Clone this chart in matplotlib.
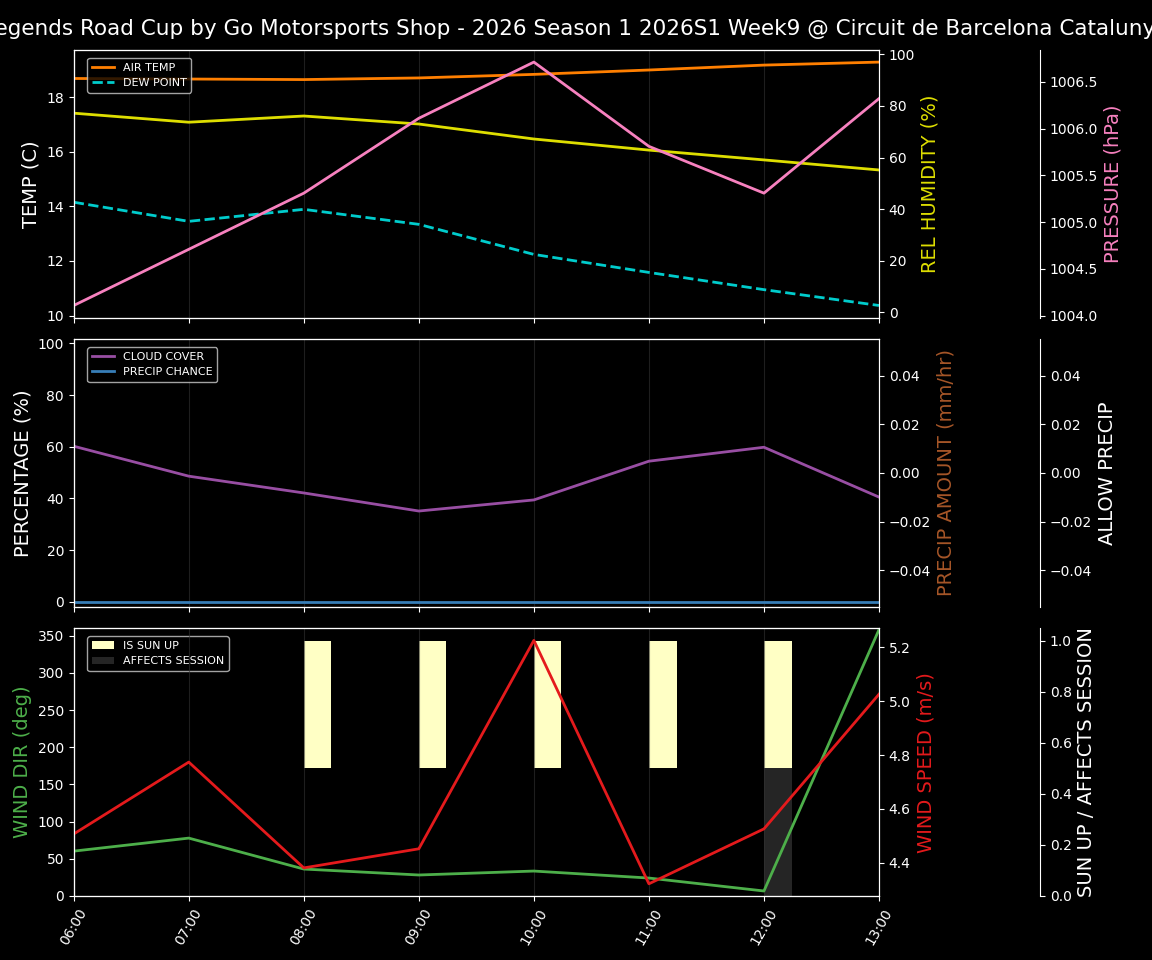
import numpy as np
import pandas as pd
import matplotlib
matplotlib.use("Agg")
import matplotlib.pyplot as plt
import matplotlib.dates as mdates

plt.style.use("dark_background")

title = "Legends Road Cup by Go Motorsports Shop - 2026 Season 1 2026S1 Week9 @ Circuit de Barcelona Catalunya"

# hourly forecast
times = pd.date_range("2026-05-09 06:00", "2026-05-09 13:00", freq="h")
air_temp = [18.68, 18.66, 18.64, 18.70, 18.83, 18.99, 19.17, 19.28]
dew_point = [14.15, 13.45, 13.89, 13.34, 12.24, 11.58, 10.95, 10.37]
rel_humidity = [77.2, 73.7, 76.1, 73.0, 67.2, 62.9, 59.1, 55.2]
pressure = [1004.11, 1004.71, 1005.31, 1006.11, 1006.71, 1005.81, 1005.31, 1006.32]
cloud_cover = [60.2, 48.6, 42.1, 35.1, 39.4, 54.4, 59.8, 40.5]
precip_chance = [0, 0, 0, 0, 0, 0, 0, 0]
precip_amount = [0, 0, 0, 0, 0, 0, 0, 0]
allow_precip = [0, 0, 0, 0, 0, 0, 0, 0]
wind_dir = [60.3, 77.8, 36.2, 28.2, 33.5, 24.1, 6.7, 358.0]
wind_speed = [4.507, 4.774, 4.381, 4.452, 5.226, 4.322, 4.526, 5.026]
sun_up = [0, 0, 1, 1, 1, 1, 1, 1]
affects_session = [0, 0, 0, 0, 0, 0, 1, 0]

fig, axs = plt.subplots(3, 1, figsize=(11.52, 9.6), dpi=100, sharex=True)
fig.subplots_adjust(left=0.064, right=0.763, top=0.948, bottom=0.0667, hspace=0.08)
fig.suptitle(title, fontsize=15.5, y=0.98)

leg_kw = dict(loc="upper left", bbox_to_anchor=(0.01, 0.99), fontsize=8)

# --- temps
ax = axs[0]
ax.plot(times, air_temp, color="#ff7f00", lw=2, label="AIR TEMP")
ax.plot(times, dew_point, color="#00cccc", lw=2, ls="--", label="DEW POINT")
ax.set_ylabel("TEMP (C)", fontsize=14)
ax.legend(**leg_kw)
ax2 = ax.twinx()
ax2.plot(times, rel_humidity, color="#dede00", lw=2)
ax2.set_ylim(-2, 101.7)
ax2.set_ylabel("REL HUMIDITY (%)", color="#dede00", fontsize=14)
ax3 = ax.twinx()
ax3.spines["right"].set_position(("axes", 1.2))
ax3.plot(times, pressure, color="#f781bf", lw=2)
ax3.set_ylabel("PRESSURE (hPa)", color="#f781bf", fontsize=14)

# --- cloud / precip
ax = axs[1]
ax.plot(times, cloud_cover, color="#984ea3", lw=2, label="CLOUD COVER")
ax.plot(times, precip_chance, color="#377eb8", lw=2, label="PRECIP CHANCE")
ax.set_ylim(-2, 101.7)
ax.set_ylabel("PERCENTAGE (%)", fontsize=14)
ax.legend(**leg_kw)
ax2 = ax.twinx()
ax2.bar(times, precip_amount, width=0.01, align="edge", color="#a65628")
ax2.set_ylim(-0.055, 0.055)
ax2.set_ylabel("PRECIP AMOUNT (mm/hr)", color="#a65628", fontsize=14)
ax3 = ax.twinx()
ax3.spines["right"].set_position(("axes", 1.2))
ax3.bar(times, allow_precip, width=0.01, align="edge", color="white")
ax3.set_ylim(-0.055, 0.055)
ax3.set_ylabel("ALLOW PRECIP", fontsize=14)

# --- wind / sun
ax = axs[2]
ax3 = ax.twinx()
ax3.spines["right"].set_position(("axes", 1.2))
sun_h = [0.5 * s for s in sun_up]
aff_h = [0.5 * a for a in affects_session]
ax3.bar(times, sun_h, bottom=0.5, width=0.01, align="edge", color="#ffffc5", label="IS SUN UP")
ax3.bar(times, aff_h, width=0.01, align="edge", color="#252525", label="AFFECTS SESSION")
ax3.set_ylim(0, 1.05)
ax3.set_ylabel("SUN UP / AFFECTS SESSION", fontsize=14)
ax3.legend(**leg_kw)
ax2 = ax.twinx()
ax2.plot(times, wind_speed, color="#e41a1c", lw=2)
ax2.set_ylabel("WIND SPEED (m/s)", color="#e41a1c", fontsize=14)
ax.plot(times, wind_dir, color="#4daf4a", lw=2)
ax.set_ylim(0, 360)
ax.set_ylabel("WIND DIR (deg)", color="#4daf4a", fontsize=14)
ax.set_zorder(ax3.get_zorder() + 2)
ax.patch.set_visible(False)
ax2.set_zorder(ax3.get_zorder() + 3)
ax2.patch.set_visible(False)

for a in axs:
    a.grid(axis="x", color="#333333", alpha=0.6)
    a.grid(axis="y", visible=False)
    a.set_xlim(times[0], times[-1])

axs[2].xaxis.set_major_locator(mdates.HourLocator())
axs[2].xaxis.set_major_formatter(mdates.DateFormatter("%H:%M"))
plt.setp(axs[2].get_xticklabels(), rotation=60)

fig.savefig("out.png", dpi=100, facecolor="black")
